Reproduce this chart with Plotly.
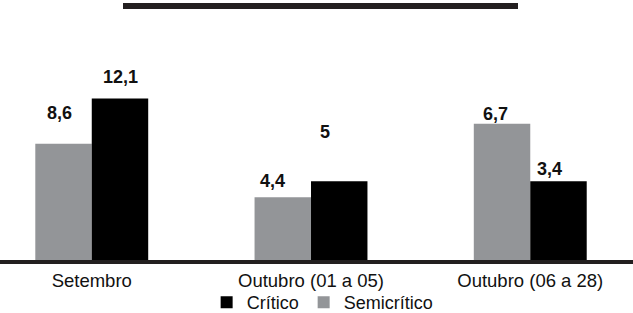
import plotly.graph_objects as go

# Categories (x axis)
periodos = ["Setembro", "Outubro (01 a 05)", "Outubro (06 a 28)"]

# Bar heights as drawn in the picture
semicritico = [8.7, 4.7, 10.2]
critico = [12.1, 5.9, 5.9]

# Value labels printed on the chart
semicritico_rotulos = ["8,6", "4,4", "6,7"]
critico_rotulos = ["12,1", "5", "3,4"]

CINZA = "#939598"
PRETO = "#000000"
ESCURO = "#231f20"
FONTE = "Liberation Sans, Arial, sans-serif"

fig = go.Figure()
fig.add_trace(go.Bar(name="Semicrítico", x=periodos, y=semicritico,
                     marker=dict(color=CINZA, line=dict(width=0))))
fig.add_trace(go.Bar(name="Crítico", x=periodos, y=critico,
                     marker=dict(color=PRETO, line=dict(width=0))))

# label offsets (px) relative to the top-centre of each bar
half_bar = 28.25
semi_dx = [-4, -10, -7]
semi_dy = [31, 16, 10]
crit_dx = [0, -14, -9]
crit_dy = [21, 49, 12]

for i, p in enumerate(periodos):
    fig.add_annotation(x=p, y=semicritico[i], text=semicritico_rotulos[i],
                       xshift=-half_bar + semi_dx[i], yshift=semi_dy[i],
                       showarrow=False, yanchor="middle",
                       font=dict(family=FONTE, size=18, color="#111", weight="bold"))
    fig.add_annotation(x=p, y=critico[i], text=critico_rotulos[i],
                       xshift=half_bar + crit_dx[i], yshift=crit_dy[i],
                       showarrow=False, yanchor="middle",
                       font=dict(family=FONTE, size=18, color="#111", weight="bold"))

# decorative line at the top (title placeholder)
fig.add_shape(type="rect", xref="paper", yref="paper",
              x0=123 / 633, x1=518 / 633, y0=(260 - 9) / 240, y1=(260 - 3) / 240,
              fillcolor=ESCURO, line=dict(width=0), layer="above")

fig.update_layout(
    width=633, height=313,
    margin=dict(l=0, r=0, t=20, b=53, autoexpand=False),
    paper_bgcolor="white", plot_bgcolor="white",
    barmode="group", bargap=0.485, bargroupgap=0,
    font=dict(family=FONTE, color="#111"),
    showlegend=True,
    legend=dict(orientation="h", traceorder="reversed",
                x=0.5097, xanchor="center", yref="container",
                y=10.5 / 313, yanchor="middle",
                font=dict(family=FONTE, size=18, color="#111"),
                bgcolor="rgba(0,0,0,0)"),
    xaxis=dict(type="category", range=[-0.4185, 2.4686], automargin=False,
               showline=True, linecolor=ESCURO, linewidth=3.5,
               ticks="", showgrid=False, zeroline=False,
               ticklabelstandoff=1,
               tickfont=dict(family=FONTE, size=18.5, color="#111")),
    yaxis=dict(range=[0, 17.98], visible=False, showgrid=False, zeroline=False,
               automargin=False),
)

fig.write_html("out.html", config={"displayModeBar": False},
               post_script="document.body.style.margin='0';document.body.style.padding='0';")
